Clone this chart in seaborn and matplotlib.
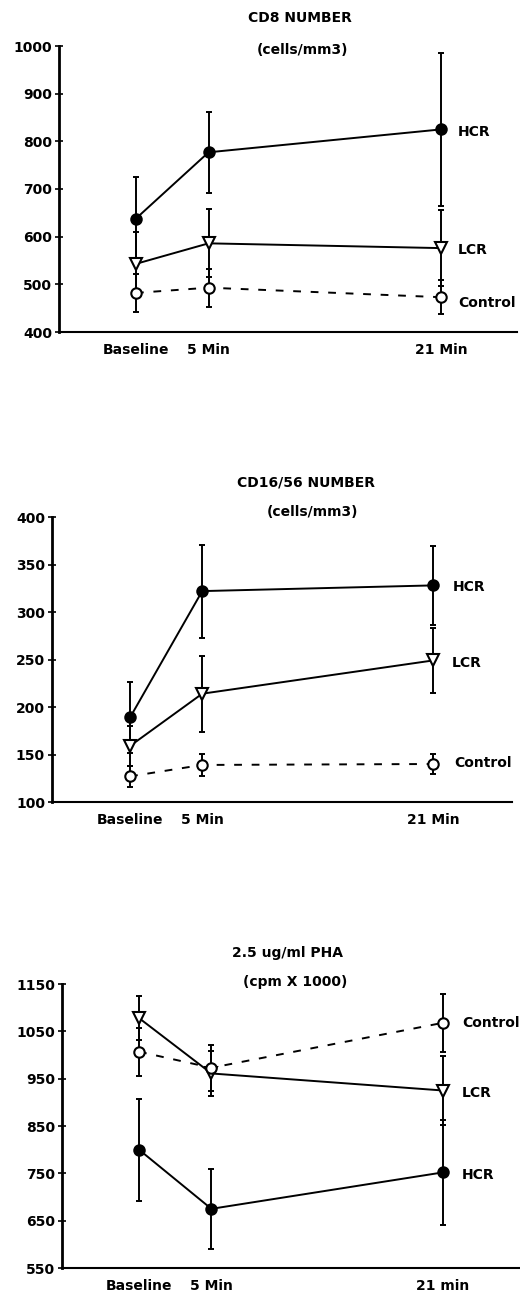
import numpy as np
import pandas as pd
import matplotlib
matplotlib.use("Agg")
import matplotlib.pyplot as plt
import seaborn as sns

sns.set_style("ticks")
plt.rcParams['font.family'] = ['DejaVu Sans']
plt.rcParams.update({"text.color": "black", "axes.edgecolor": "black",
                     "xtick.color": "black", "ytick.color": "black",
                     "axes.labelcolor": "black"})

# ---------------- data ----------------
time_points = [0, 5, 21]
time_labels_a = ["Baseline", "5 Min", "21 Min"]
time_labels_c = ["Baseline", "5 Min", "21 min"]
groups = ["HCR", "LCR", "Control"]

# Panel A: CD8 number (cells/mm3)
cd8_hcr = [638, 777, 825]
cd8_hcr_err = [87, 85, 160]
cd8_lcr = [543, 586, 576]
cd8_lcr_err = [67, 71, 80]
cd8_ctl = [482, 493, 473]
cd8_ctl_err = [39, 40, 36]
cd8_ticks = [400, 500, 600, 700, 800, 900, 1000]

# Panel B: CD16/56 number (cells/mm3)
nk_hcr = [189, 322, 328]
nk_hcr_err = [37, 49, 42]
nk_lcr = [159, 214, 249]
nk_lcr_err = [21, 40, 34]
nk_ctl = [127, 139, 140]
nk_ctl_err = [11, 12, 11]
nk_ticks = [100, 150, 200, 250, 300, 350, 400]

# Panel C: 2.5 ug/ml PHA (cpm x 1000)
pha_hcr = [800, 675, 752]
pha_hcr_err = [108, 85, 111]
pha_lcr = [1078, 961, 925]
pha_lcr_err = [47, 48, 72]
pha_ctl = [1007, 973, 1068]
pha_ctl_err = [51, 48, 61]
pha_ticks = [550, 650, 750, 850, 950, 1050, 1150]

W, H = 520, 1295
fig = plt.figure(figsize=(W / 100, H / 100), dpi=100)

FS = 10
style = {
    "HCR": dict(marker="o", mfc="black", mec="black", ls="-"),
    "LCR": dict(marker="v", mfc="white", mec="black", ls="-"),
    "Control": dict(marker="o", mfc="white", mec="black", ls=(0, (4, 5))),
}


def panel(rect, xl, series, yticks, xlabels, title1, title2, tpos, labpos):
    ax = fig.add_axes(rect)
    for name, vals, errs in series:
        st = style[name]
        df = pd.DataFrame({"t": time_points, "v": vals})
        ax.errorbar(time_points, vals, yerr=errs, fmt="none", ecolor="black",
                    elinewidth=1.4, capsize=2.5, capthick=1.4, zorder=2)
        sns.lineplot(data=df, x="t", y="v", ax=ax, color="black",
                     linewidth=1.4, linestyle=st["ls"], marker=st["marker"],
                     markersize=7.5 if st["marker"] == "o" else 8,
                     markerfacecolor=st["mfc"], markeredgecolor=st["mec"],
                     markeredgewidth=1.5, zorder=3)
    ax.set_xlim(*xl)
    ax.set_ylim(yticks[0], yticks[-1])
    ax.set_yticks(yticks)
    ax.set_yticklabels([str(t) for t in yticks], fontsize=FS, fontweight="bold")
    ax.set_xticks(time_points)
    ax.set_xticklabels(xlabels, fontsize=FS, fontweight="bold")
    ax.tick_params(axis="x", length=0, pad=8)
    ax.tick_params(axis="y", direction="inout", length=6, width=1.2, pad=2)
    ax.set_xlabel("")
    ax.set_ylabel("")
    for s in ["top", "right"]:
        ax.spines[s].set_visible(False)
    ax.spines["left"].set_linewidth(2.0)
    ax.spines["bottom"].set_linewidth(1.5)
    ax.patch.set_alpha(0)
    fig.text(tpos[0][0] / W, 1 - tpos[0][1] / H, title1, ha="center", va="center",
             fontsize=FS, fontweight="bold")
    fig.text(tpos[1][0] / W, 1 - tpos[1][1] / H, title2, ha="center", va="center",
             fontsize=FS, fontweight="bold")
    for name, (lx, ly) in labpos.items():
        fig.text(lx / W, 1 - ly / H, name, ha="left", va="center",
                 fontsize=FS, fontweight="bold")
    return ax


def rect(left, right, top, bottom):
    return [left / W, 1 - bottom / H, (right - left) / W, (bottom - top) / H]


panel(rect(59, 517, 46, 332), (-5.30, 26.24),
      [("HCR", cd8_hcr, cd8_hcr_err), ("LCR", cd8_lcr, cd8_lcr_err),
       ("Control", cd8_ctl, cd8_ctl_err)],
      cd8_ticks, time_labels_a, "CD8 NUMBER", "(cells/mm3)",
      [(300, 18), (303, 50)],
      {"HCR": (458, 132), "LCR": (458, 250), "Control": (458, 303)})

panel(rect(52, 512, 517, 802), (-5.41, 26.47),
      [("HCR", nk_hcr, nk_hcr_err), ("LCR", nk_lcr, nk_lcr_err),
       ("Control", nk_ctl, nk_ctl_err)],
      nk_ticks, time_labels_a, "CD16/56 NUMBER", "(cells/mm3)",
      [(306, 482), (313, 512)],
      {"HCR": (453, 587), "LCR": (452, 663), "Control": (454, 763)})

panel(rect(62, 520, 984, 1268), (-5.32, 26.32),
      [("HCR", pha_hcr, pha_hcr_err), ("LCR", pha_lcr, pha_lcr_err),
       ("Control", pha_ctl, pha_ctl_err)],
      pha_ticks, time_labels_c, "2.5 ug/ml PHA", "(cpm X 1000)",
      [(288, 953), (295, 982)],
      {"Control": (462, 1023), "LCR": (462, 1093), "HCR": (462, 1175)})

fig.savefig("out.png", dpi=100)
